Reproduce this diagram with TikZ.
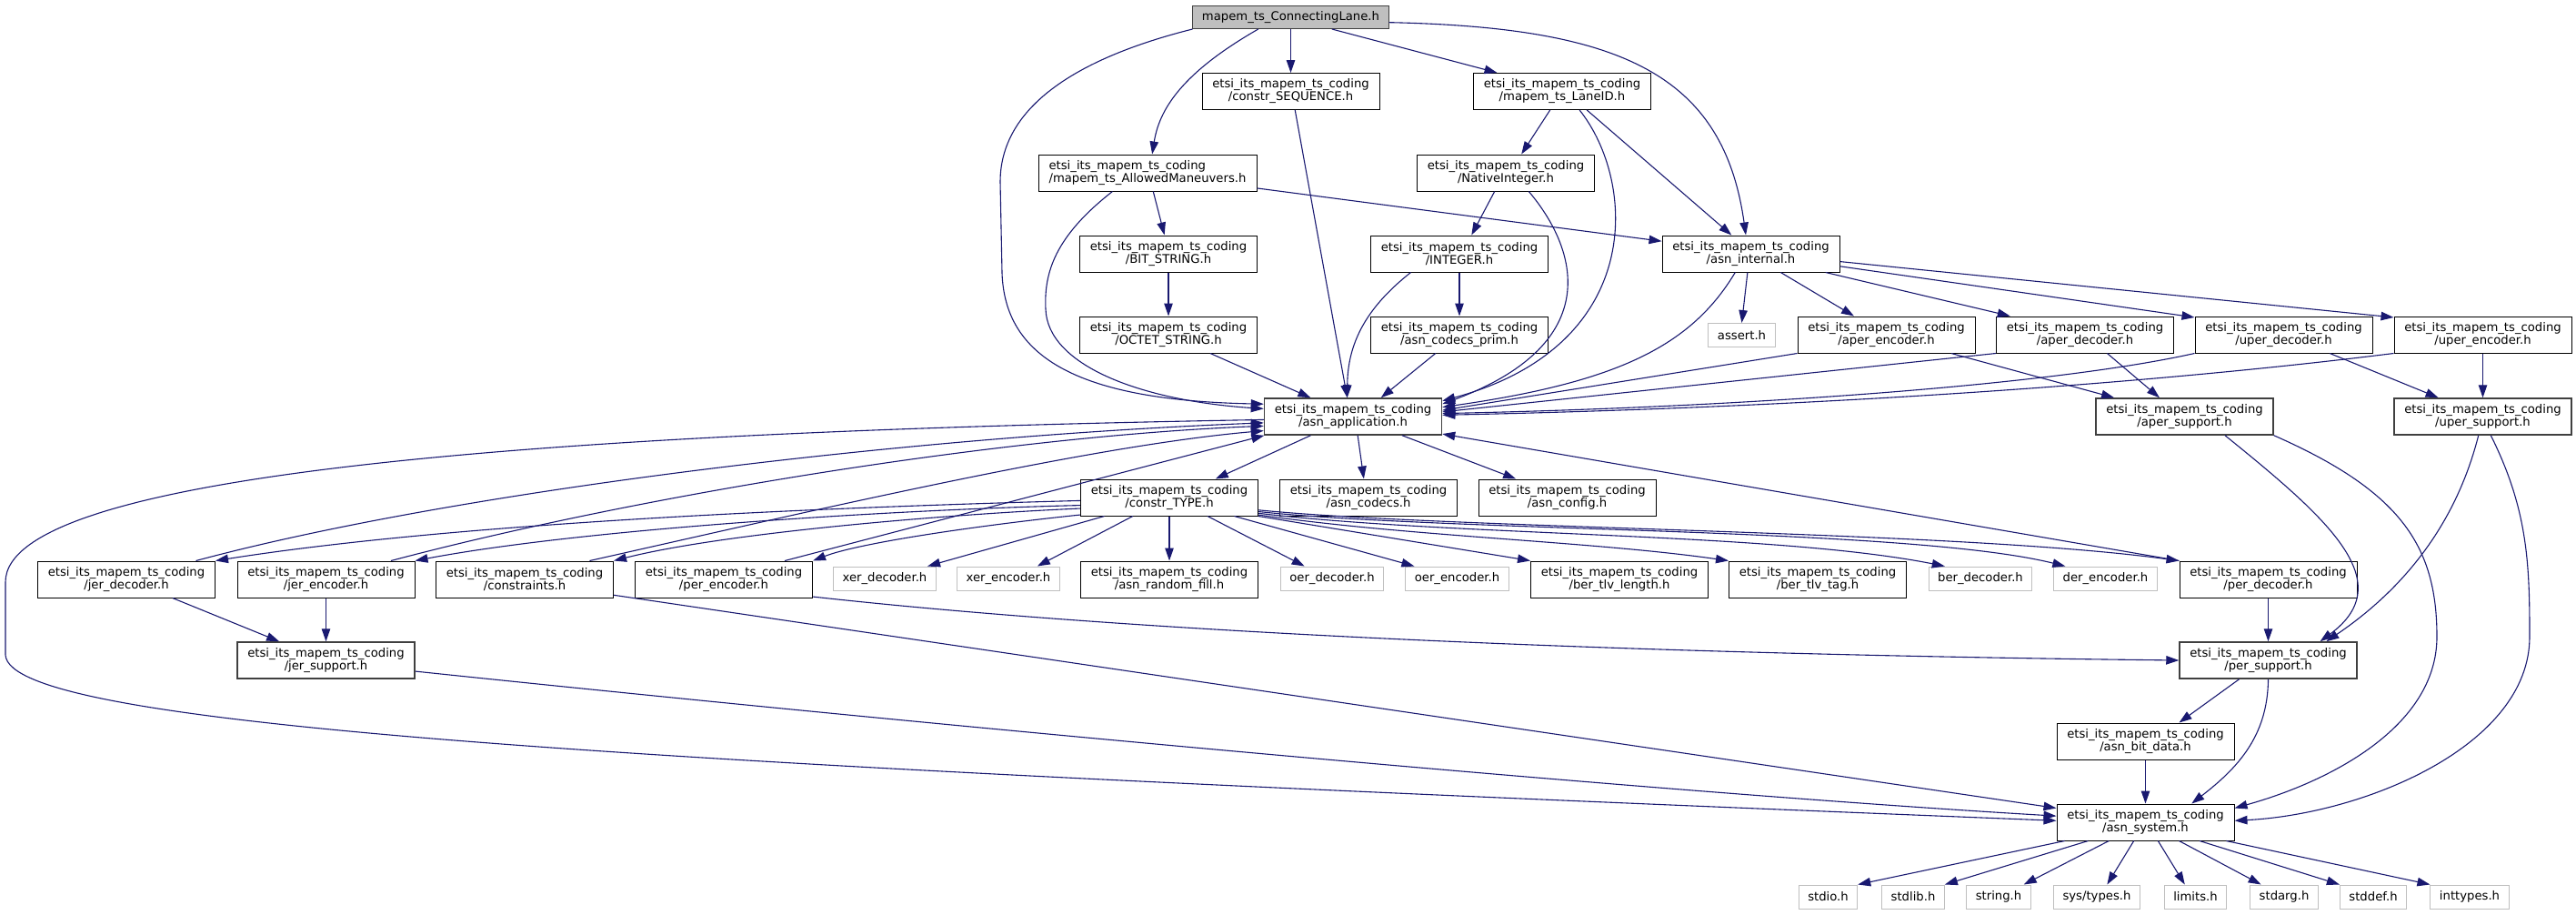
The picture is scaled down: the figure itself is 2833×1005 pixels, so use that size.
\documentclass[tikz,border=0pt]{standalone}
\usepackage{fontspec}
\setmainfont{DejaVu Sans}
\usetikzlibrary{arrows.meta,positioning}
\definecolor{edgeblue}{HTML}{191970}
\definecolor{sysgray}{HTML}{BFBFBF}
\definecolor{hubgray}{HTML}{404040}
\tikzset{
  hdr/.style={draw=black, fill=white, line width=1pt, minimum width=195pt,
    minimum height=40pt, inner xsep=10pt, inner ysep=2pt, align=center,
    font=\fontsize{13.2}{14}\selectfont},
  hub/.style={hdr, draw=hubgray, line width=1.5pt},
  sys/.style={draw=sysgray, fill=white, line width=1pt, minimum height=26pt,
    inner xsep=10pt, inner ysep=2pt, font=\fontsize{13.2}{14}\selectfont},
  dep/.style={draw=edgeblue, line width=1.1pt, -{Triangle[length=14pt,width=9.5pt]}},
}

\begin{document}
\begin{tikzpicture}[x=1pt,y=-1pt]
\useasboundingbox (0,0) rectangle (2833,1005);
% files
\node[hdr, fill=sysgray, draw=hubgray, minimum width=215pt, minimum height=25pt] (root) at (1419.5,19) {mapem\_ts\_ConnectingLane.h};
\node[hdr] (cseq) at (1419.5,100.5) {etsi\_its\_mapem\_ts\_coding\\/constr\_SEQUENCE.h};
\node[hdr] (laneid) at (1718,100.5) {etsi\_its\_mapem\_ts\_coding\\/mapem\_ts\_LaneID.h};
\node[hdr, minimum width=240pt, align=left] (allowed) at (1262,190) {etsi\_its\_mapem\_ts\_coding\\/mapem\_ts\_AllowedManeuvers.h};
\node[hdr] (native) at (1656,190) {etsi\_its\_mapem\_ts\_coding\\/NativeInteger.h};
\node[hdr] (bitstr) at (1285,279) {etsi\_its\_mapem\_ts\_coding\\/BIT\_STRING.h};
\node[hdr] (integer) at (1605,279) {etsi\_its\_mapem\_ts\_coding\\/INTEGER.h};
\node[hdr] (internal) at (1925.5,279) {etsi\_its\_mapem\_ts\_coding\\/asn\_internal.h};
\node[hdr] (octet) at (1285,368) {etsi\_its\_mapem\_ts\_coding\\/OCTET\_STRING.h};
\node[hdr] (prim) at (1605,368) {etsi\_its\_mapem\_ts\_coding\\/asn\_codecs\_prim.h};
\node[sys] (assert) at (1915.5,368.5) {assert.h};
\node[hdr] (aperenc) at (2074.5,368) {etsi\_its\_mapem\_ts\_coding\\/aper\_encoder.h};
\node[hdr] (aperdec) at (2293,368) {etsi\_its\_mapem\_ts\_coding\\/aper\_decoder.h};
\node[hdr] (uperdec) at (2511.5,368) {etsi\_its\_mapem\_ts\_coding\\/uper\_decoder.h};
\node[hdr] (uperenc) at (2730.5,368) {etsi\_its\_mapem\_ts\_coding\\/uper\_encoder.h};
\node[hub] (app) at (1488,458) {etsi\_its\_mapem\_ts\_coding\\/asn\_application.h};
\node[hub] (apersup) at (2402.5,458) {etsi\_its\_mapem\_ts\_coding\\/aper\_support.h};
\node[hub] (upersup) at (2730.5,458) {etsi\_its\_mapem\_ts\_coding\\/uper\_support.h};
\node[hdr] (ctype) at (1286,547) {etsi\_its\_mapem\_ts\_coding\\/constr\_TYPE.h};
\node[hdr] (codecs) at (1505,547) {etsi\_its\_mapem\_ts\_coding\\/asn\_codecs.h};
\node[hdr] (config) at (1723.5,547) {etsi\_its\_mapem\_ts\_coding\\/asn\_config.h};
\node[hdr] (jerdec) at (139,637) {etsi\_its\_mapem\_ts\_coding\\/jer\_decoder.h};
\node[hdr] (jerenc) at (358.5,637) {etsi\_its\_mapem\_ts\_coding\\/jer\_encoder.h};
\node[hdr] (constr) at (577,637) {etsi\_its\_mapem\_ts\_coding\\/constraints.h};
\node[hdr] (perenc) at (796,637) {etsi\_its\_mapem\_ts\_coding\\/per\_encoder.h};
\node[sys] (xerdec) at (973,636) {xer\_decoder.h};
\node[sys] (xerenc) at (1109,636) {xer\_encoder.h};
\node[hdr] (rfill) at (1286,637) {etsi\_its\_mapem\_ts\_coding\\/asn\_random\_fill.h};
\node[sys] (oerdec) at (1465,636) {oer\_decoder.h};
\node[sys] (oerenc) at (1602.5,636) {oer\_encoder.h};
\node[hdr] (tlvlen) at (1781,637) {etsi\_its\_mapem\_ts\_coding\\/ber\_tlv\_length.h};
\node[hdr] (tlvtag) at (1999,637) {etsi\_its\_mapem\_ts\_coding\\/ber\_tlv\_tag.h};
\node[sys] (berdec) at (2178,636) {ber\_decoder.h};
\node[sys] (derenc) at (2315.5,636) {der\_encoder.h};
\node[hdr] (perdec) at (2494.5,637) {etsi\_its\_mapem\_ts\_coding\\/per\_decoder.h};
\node[hub] (jersup) at (358.5,726) {etsi\_its\_mapem\_ts\_coding\\/jer\_support.h};
\node[hub] (persup) at (2494.5,726) {etsi\_its\_mapem\_ts\_coding\\/per\_support.h};
\node[hdr] (bitdata) at (2359.5,815) {etsi\_its\_mapem\_ts\_coding\\/asn\_bit\_data.h};
\node[hdr] (system) at (2359.5,904) {etsi\_its\_mapem\_ts\_coding\\/asn\_system.h};
\node[sys] (stdio) at (2010.5,986) {stdio.h};
\node[sys] (stdlib) at (2104,986) {stdlib.h};
\node[sys] (string) at (2198,986) {string.h};
\node[sys] (systypes) at (2306,986) {sys/types.h};
\node[sys] (limits) at (2414.5,986) {limits.h};
\node[sys] (stdarg) at (2512,986) {stdarg.h};
\node[sys] (stddef) at (2610,986) {stddef.h};
\node[sys] (inttypes) at (2716,986) {inttypes.h};

% includes of the root file
\draw[dep] (root.south west) .. controls (1200,60) and (1100,110) .. (1100,200) -- (1102,300) .. controls (1105,390) and (1180,440) .. (app.172);
\draw[dep] (root.200) .. controls (1300,80) and (1275,120) .. (allowed.76);
\draw[dep] (root.south) -- (cseq.north);
\draw[dep] (root.344) -- (laneid.164);
\draw[dep] (root.357) .. controls (1780,30) and (1895,80) .. (internal.105);
% second level
\draw[dep] (cseq.283) -- (app.107);
\draw[dep] (laneid.237) -- (native.50);
\draw[dep] (laneid.313) .. controls (1800,200) and (1810,380) .. (app.10);
\draw[dep] (laneid.323) -- (internal.136);
\draw[dep] (allowed.208) .. controls (1160,260) and (1148,300) .. (1150,340) .. controls (1152,400) and (1250,440) .. (app.175);
\draw[dep] (allowed.287) -- (bitstr.102);
\draw[dep] (allowed.352) -- (internal.172);
\draw[dep] (native.239) -- (integer.57);
\draw[dep] (native.321) .. controls (1740,280) and (1760,380) .. (app.8);
\draw[dep] (bitstr.south) -- (octet.north);
\draw[dep] (integer.201) .. controls (1500,340) and (1482,380) .. (app.107);
\draw[dep] (integer.south) -- (prim.north);
\draw[dep] (octet.336) -- (app.156);
\draw[dep] (prim.218) -- (app.34);
% asn_internal.h
\draw[dep] (internal.230) .. controls (1860,380) and (1780,420) .. (app.6);
\draw[dep] (internal.260) -- (assert.north);
\draw[dep] (internal.328) -- (aperenc.150);
\draw[dep] (internal.346) -- (aperdec.166);
\draw[dep] (internal.352) -- (uperdec.169);
\draw[dep] (internal.355) -- (uperenc.169);
% aper / uper codecs
\draw[dep] (aperenc.south west) -- (app.4);
\draw[dep] (aperenc.344) -- (apersup.165);
\draw[dep] (aperdec.south west) -- (app.3);
\draw[dep] (aperdec.320) -- (apersup.143);
\draw[dep] (uperdec.south west) .. controls (2250,425) and (1900,448) .. (app.2);
\draw[dep] (uperdec.338) -- (upersup.157);
\draw[dep] (uperenc.south west) .. controls (2300,430) and (1900,450) .. (app.1);
\draw[dep] (uperenc.south) -- (upersup.north);
\draw[dep] (apersup.335) .. controls (2560,570) and (2640,640) .. (persup.20);
\draw[dep] (apersup.south east) .. controls (2640,540) and (2680,600) .. (2680,700) .. controls (2680,800) and (2560,860) .. (system.9);
\draw[dep] (upersup.257) .. controls (2700,580) and (2640,650) .. (persup.18);
\draw[dep] (upersup.293) .. controls (2780,560) and (2782,620) .. (2782,700) .. controls (2782,820) and (2600,895) .. (system.1);
% asn_application.h
\draw[dep] (app.204) -- (ctype.22);
\draw[dep] (app.284) -- (codecs.104);
\draw[dep] (app.339) -- (config.160);
\draw[dep] (app.182) .. controls (600,475) and (6,520) .. (6,640) -- (6,720) .. controls (10,800) and (700,840) .. (system.179);
% constr_TYPE.h
\draw[dep] (ctype.182) .. controls (900,558) and (500,575) .. (jerdec.north east);
\draw[dep] (ctype.185) .. controls (1000,560) and (650,580) .. (jerenc.north east);
\draw[dep] (ctype.187) .. controls (1050,565) and (800,585) .. (constr.north east);
\draw[dep] (ctype.191) .. controls (1100,575) and (950,595) .. (perenc.north east);
\draw[dep] (ctype.196) -- (xerdec.16);
\draw[dep] (ctype.207) -- (xerenc.23);
\draw[dep] (ctype.south) -- (rfill.north);
\draw[dep] (ctype.334) -- (oerdec.156);
\draw[dep] (ctype.344) -- (oerenc.164);
\draw[dep] (ctype.south east) -- (tlvlen.north west);
\draw[dep] (ctype.349) .. controls (1550,590) and (1750,595) .. (tlvtag.north west);
\draw[dep] (ctype.350) .. controls (1600,590) and (1950,585) .. (berdec.161);
\draw[dep] (ctype.351) .. controls (1600,585) and (2100,580) .. (derenc.163);
\draw[dep] (ctype.352) .. controls (1600,582) and (2150,583) .. (perdec.north west);
% encoders and decoders
\draw[dep] (jerdec.15) .. controls (500,540) and (1000,480) .. (app.184);
\draw[dep] (jerdec.338) -- (jersup.158);
\draw[dep] (jerenc.16) .. controls (700,545) and (1100,480) .. (app.186);
\draw[dep] (jerenc.south) -- (jersup.north);
\draw[dep] (constr.16) .. controls (900,560) and (1200,490) .. (app.189);
\draw[dep] (constr.350) -- (system.171);
\draw[dep] (perenc.17) -- (app.192);
\draw[dep] (perenc.349) .. controls (1200,690) and (1700,718) .. (persup.west);
\draw[dep] (perdec.north west) -- (app.349);
\draw[dep] (perdec.south) -- (persup.north);
% support files
\draw[dep] (jersup.353) .. controls (1000,795) and (1800,870) .. (system.176);
\draw[dep] (persup.213) -- (bitdata.29);
\draw[dep] (persup.south) .. controls (2494,810) and (2460,845) .. (system.22);
\draw[dep] (bitdata.south) -- (system.north);
% asn_system.h
\draw[dep] (system.193) -- (stdio.north east);
\draw[dep] (system.198) -- (stdlib.north east);
\draw[dep] (system.207) -- (string.26);
\draw[dep] (system.238) -- (systypes.50);
\draw[dep] (system.304) -- (limits.131);
\draw[dep] (system.331) -- (stdarg.152);
\draw[dep] (system.341) -- (stddef.north west);
\draw[dep] (system.347) -- (inttypes.north west);
\end{tikzpicture}
\end{document}
